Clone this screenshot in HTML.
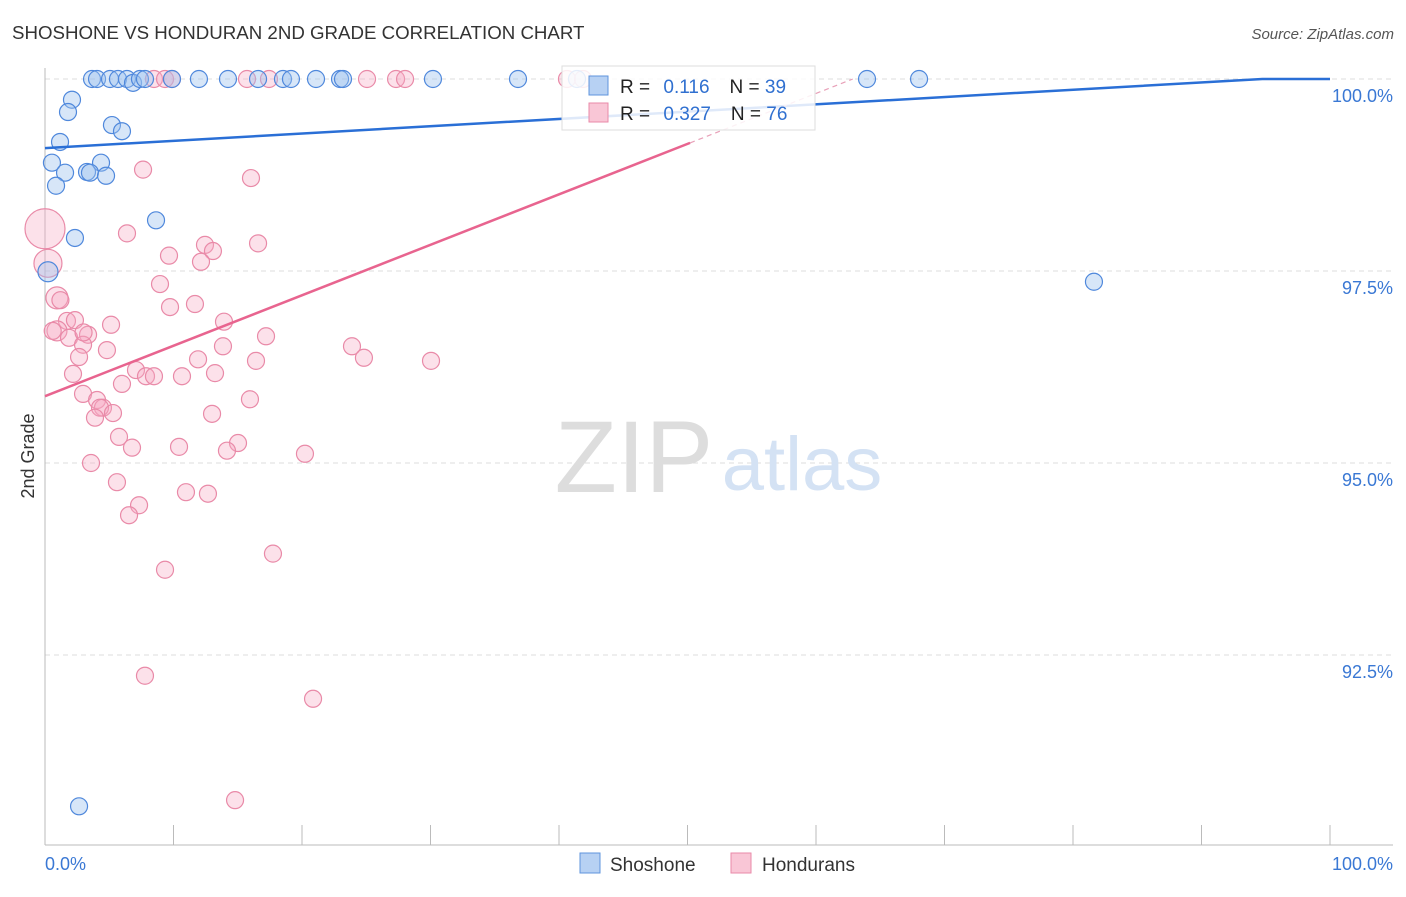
<!DOCTYPE html>
<html><head><meta charset="utf-8"><style>
body{margin:0;background:#fff;font-family:"Liberation Sans",sans-serif}
svg text{font-family:"Liberation Sans",sans-serif}
</style></head><body>
<svg width="1406" height="892" viewBox="0 0 1406 892">
<text x="12" y="39" font-size="18.7" fill="#333">SHOSHONE VS HONDURAN 2ND GRADE CORRELATION CHART</text>
<text x="1394" y="39" font-size="15" fill="#555" text-anchor="end" font-style="italic">Source: ZipAtlas.com</text>
<g id="grid"></g>
<g><text x="634" y="492" font-size="102" fill="#ddd" text-anchor="middle" font-family="Liberation Serif,serif">ZIP</text><text x="802" y="490" font-size="76" fill="#d4e2f4" text-anchor="middle">atlas</text></g>
<g id="axes"></g>
<g id="pts"></g>
<g id="lines"></g>
<text x="34" y="456" font-size="18" fill="#333" text-anchor="middle" transform="rotate(-90 34 456)">2nd Grade</text>
<text x="45" y="870" font-size="18" fill="#3a78d4">0.0%</text>
<text x="1393" y="870" font-size="18" fill="#3a78d4" text-anchor="end">100.0%</text>
<g>
<rect x="562" y="66" width="253" height="64" fill="#fff" fill-opacity="0.85" stroke="#ddd"/>
<rect x="589" y="76" width="19" height="19" fill="#b7d1f3" stroke="#5f94dd"/>
<rect x="589" y="103" width="19" height="19" fill="#f9c6d6" stroke="#e98aa8"/>
<text x="620" y="93" font-size="19" fill="#222">R = <tspan fill="#3070d0" dx="8">0.116</tspan><tspan dx="20" fill="#222">N = </tspan><tspan fill="#3070d0">39</tspan></text>
<text x="620" y="120" font-size="19" fill="#222">R = <tspan fill="#3070d0" dx="8">0.327</tspan><tspan dx="20" fill="#222">N = </tspan><tspan fill="#3070d0">76</tspan></text>
</g>
<g>
<rect x="580" y="853" width="20" height="20" fill="#b7d1f3" stroke="#5f94dd"/>
<text x="610" y="871" font-size="19" fill="#333">Shoshone</text>
<rect x="731" y="853" width="20" height="20" fill="#f9c6d6" stroke="#e98aa8"/>
<text x="762" y="871" font-size="19" fill="#333">Hondurans</text>
</g>
</svg>
<script>
const yTicks=[100,97.5,95,92.5];
const yTickLabels=["100.0%","97.5%","95.0%","92.5%"];
const xTicks=[0,10,20,30,40,50,60,70,80,90,100];
const shoX=[3.66,4.05,5.06,5.68,6.38,6.85,7.39,7.78,9.88,11.98,14.24,16.58,18.52,19.14,21.09,22.96,23.19,30.19,36.81,63.97,68.02,41.4,2.10,1.79,5.21,5.99,1.17,0.54,4.36,1.56,3.27,3.50,4.75,0.86,8.64,2.33,0.23,81.63,2.65];
const shoY=[100,100,100,100,100,99.95,100,100,100,100,100,100,100,100,100,100,100,100,100,100,100,100,99.73,99.57,99.40,99.32,99.18,98.91,98.91,98.78,98.79,98.78,98.74,98.61,98.16,97.93,97.49,97.36,90.53];
const honX=[8.48,9.34,9.88,15.72,17.43,25.06,27.32,28.02,40.62,41.87,7.63,16.03,0,6.38,12.45,16.58,13.07,9.65,12.14,0.23,8.95,0.93,11.67,9.73,1.71,2.33,5.14,13.93,3.35,17.2,0.93,1.87,13.85,23.89,2.96,4.82,2.65,11.91,16.42,24.82,30.04,2.18,7.08,7.86,8.48,10.66,13.23,5.99,2.96,15.95,4.05,4.51,4.28,5.29,3.89,13.0,5.76,6.77,10.43,15.02,14.16,20.23,3.58,5.60,10.97,12.68,7.32,6.54,17.74,9.34,7.78,20.86,14.79,0.6,1.2,3.0];
const honY=[100,100,100,100,100,100,100,100,100,100,98.82,98.71,98.05,97.99,97.84,97.86,97.76,97.70,97.62,97.60,97.33,97.15,97.07,97.03,96.85,96.86,96.80,96.84,96.67,96.65,96.72,96.63,96.52,96.52,96.54,96.47,96.38,96.35,96.33,96.37,96.33,96.16,96.21,96.13,96.13,96.13,96.17,96.03,95.90,95.83,95.82,95.72,95.72,95.65,95.59,95.64,95.34,95.20,95.21,95.26,95.16,95.12,95.0,94.75,94.62,94.60,94.45,94.32,93.82,93.61,92.23,91.93,90.61,96.72,97.12,96.70];
const honR=[8.5,8.5,8.5,8.5,8.5,8.5,8.5,8.5,8.5,8.5,8.5,8.5,20,8.5,8.5,8.5,8.5,8.5,8.5,14,8.5,11,8.5,8.5,8.5,8.5,8.5,8.5,8.5,8.5,10,8.5,8.5,8.5,8.5,8.5,8.5,8.5,8.5,8.5,8.5,8.5,8.5,8.5,8.5,8.5,8.5,8.5,8.5,8.5,8.5,8.5,8.5,8.5,8.5,8.5,8.5,8.5,8.5,8.5,8.5,8.5,8.5,8.5,8.5,8.5,8.5,8.5,8.5,8.5,8.5,8.5,8.5,8.5,8.5,8.5];
const shoTrend=[99.10,0.0095];
const honTrend=[95.87,0.0657];
const NS="http://www.w3.org/2000/svg";
const X=v=>45+v*12.85, Y=v=>79+(100-v)*76.8;
function mk(t,a,p){const e=document.createElementNS(NS,t);for(const k in a)e.setAttribute(k,a[k]);p.appendChild(e);return e;}
const grid=document.getElementById('grid'),axes=document.getElementById('axes');
yTicks.forEach((v,i)=>{
 const l=mk('line',{x1:45,x2:1393,y1:Y(v),y2:Y(v),stroke:'#ddd','stroke-dasharray':'5,4'},grid);
 
 
 const t=mk('text',{x:1393,y:Y(v)+23,'font-size':18,fill:'#3a78d4','text-anchor':'end'},grid);
 t.textContent=yTickLabels[i];
 
 
});
mk('line',{x1:45,x2:45,y1:68,y2:845,stroke:'#bbb'},axes);
mk('line',{x1:45,x2:1393,y1:845,y2:845,stroke:'#bbb'},axes);
xTicks.forEach(v=>{
 const l=mk('line',{x1:X(v),x2:X(v),y1:825,y2:845,stroke:'#bbb'},axes);
 
 
});
const pts=document.getElementById('pts');
honX.forEach((v,i)=>{
 const c=mk('circle',{cx:X(v),cy:Y(honY[i]),r:honR[i],fill:'#f5a9c2','fill-opacity':0.35,stroke:'#e98aa8','stroke-width':1.2},pts);
 
 
});
shoX.forEach((v,i)=>{
 const c=mk('circle',{cx:X(v),cy:Y(shoY[i]),r:(i==36?10:8.5),fill:'#9cc0ee','fill-opacity':0.4,stroke:'#4f88dc','stroke-width':1.2},pts);
 
 
});
const lines=document.getElementById('lines');
const sEnd=(100-shoTrend[0])/shoTrend[1];
let l=mk('path',{d:`M${X(0)},${Y(shoTrend[0])}L${X(sEnd)},${Y(100)}L${X(100)},${Y(100)}`,stroke:'#2a6fd6','stroke-width':2.5,fill:'none'},lines);


const hSolid=50.2,hEnd=(100-honTrend[0])/honTrend[1];
l=mk('line',{x1:X(0),y1:Y(honTrend[0]),x2:X(hSolid),y2:Y(honTrend[0]+honTrend[1]*hSolid),stroke:'#e8648f','stroke-width':2.5},lines);


l=mk('line',{x1:X(hSolid),y1:Y(honTrend[0]+honTrend[1]*hSolid),x2:X(hEnd),y2:Y(100),stroke:'#e8a0b8','stroke-width':1.2,'stroke-dasharray':'5,4'},lines);


</script>
</body></html>
